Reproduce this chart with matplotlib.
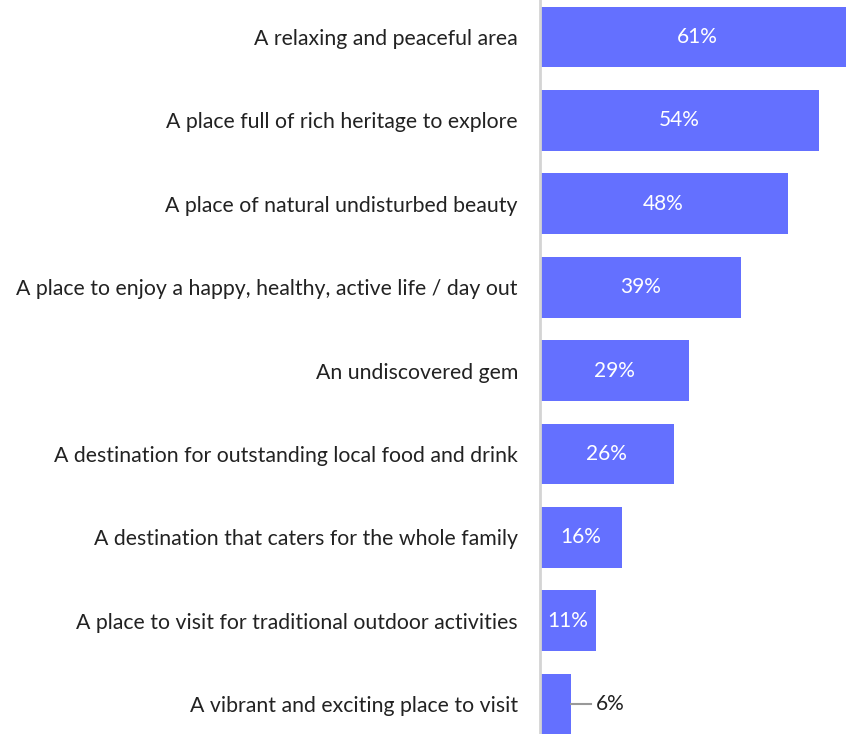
import matplotlib
matplotlib.use("Agg")
import matplotlib.pyplot as plt

categories = [
    "A relaxing and peaceful area",
    "A place full of rich heritage to explore",
    "A place of natural undisturbed beauty",
    "A place to enjoy a happy, healthy, active life / day out",
    "An undiscovered gem",
    "A destination for outstanding local food and drink",
    "A destination that caters for the whole family",
    "A place to visit for traditional outdoor activities",
    "A vibrant and exciting place to visit",
]
values = [61, 54, 48, 39, 29, 26, 16, 11, 6]
labels = ["61%", "54%", "48%", "39%", "29%", "26%", "16%", "11%", "6%"]

plt.rcParams['font.family'] = ['Lato', 'DejaVu Sans']

W, H = 846, 734
fig = plt.figure(figsize=(W/100, H/100), dpi=100)
ax = fig.add_axes([539.5/W, 0, 306.5/W, 1])
color = "#6470FF"
y = list(range(len(values)))
ax.barh(y, values, height=0.73, color=color, zorder=2)
ax.set_xlim(0, 59.3)
ax.set_ylim(8.357, -0.444)
ax.set_yticks(y)
ax.set_yticklabels(categories, fontsize=15.3, color="#222222")
ax.tick_params(axis='y', length=0, pad=15.5)
ax.set_xticks([])
for s in ['top', 'right', 'bottom']:
    ax.spines[s].set_visible(False)
ax.spines['left'].set_color('#d4d4d4')
ax.spines['left'].set_linewidth(2)
ax.spines['left'].set_zorder(3)

for i, (v, lab) in enumerate(zip(values, labels)):
    if v >= 10:
        ax.text(v/2, i, lab, ha='center', va='center', color='white', fontsize=15)
    else:
        ax.plot([v, v + 4], [i, i], color='#999999', lw=1.5, clip_on=False)
        ax.text(v + 5, i, lab, ha='left', va='center', color='#222222', fontsize=15)

fig.savefig("out.png", dpi=100)
